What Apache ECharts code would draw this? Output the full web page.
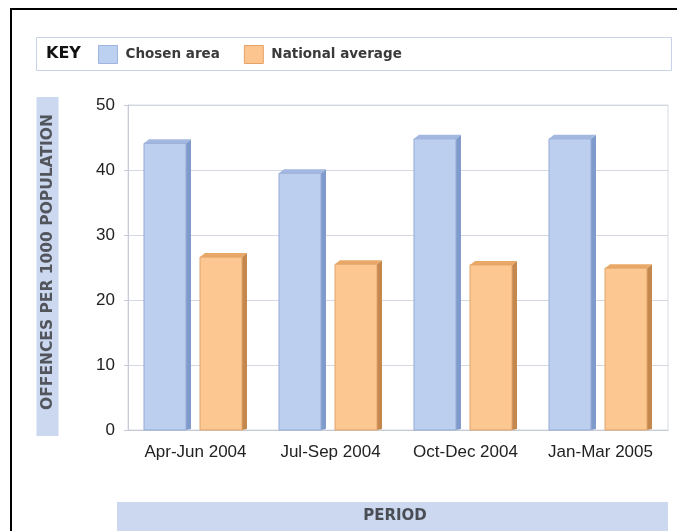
<!DOCTYPE html>
<html>
<head>
<meta charset="utf-8">
<script src="https://cdn.jsdelivr.net/npm/echarts@6/dist/echarts.min.js"></script>
<style>
html,body{margin:0;padding:0;background:#fff;}
#c{width:677px;height:531px;}
</style>
</head>
<body>
<div id="c"></div>
<script>
var categories = ['Apr-Jun 2004', 'Jul-Sep 2004', 'Oct-Dec 2004', 'Jan-Mar 2005'];
var chosenArea = [44.1, 39.5, 44.8, 44.8];
var nationalAverage = [26.6, 25.5, 25.4, 24.9];
var yTicks = { min: 0, max: 50, interval: 10 };

var chart = echarts.init(document.getElementById('c'));

function bar3d(offsetFrac, c) {
  return function (params, api) {
    var idx = api.value(0), val = api.value(1);
    var base = api.coord([idx, 0]);
    var top = api.coord([idx, val]);
    var bw = api.size([1, 0])[0];
    var w = bw * 0.311;
    var cx = base[0] + bw * offsetFrac;
    var x0 = cx - w / 2, x1 = cx + w / 2;
    var d = 5, h = 4;
    var yt = top[1], yb = base[1];
    return {
      type: 'group',
      children: [
        { type: 'polygon', shape: { points: [[x1, yt], [x1 + d, yt - h], [x1 + d, yb - 1], [x1, yb]] }, style: { fill: c.side } },
        { type: 'polygon', shape: { points: [[x0, yt], [x0 + d, yt - h], [x1 + d, yt - h], [x1, yt]] }, style: { fill: c.top } },
        { type: 'rect', shape: { x: x0, y: yt, width: w, height: yb - yt }, style: { fill: c.front, stroke: c.edge, lineWidth: 1 } }
      ]
    };
  };
}

var blue = { front: '#bdcfee', edge: '#97acd8', side: '#7f9bcb', top: '#a3b8e0' };
var orange = { front: '#fdc792', edge: '#e0a468', side: '#c4874e', top: '#eaa866' };

var option = {
  animation: false,
  backgroundColor: '#ffffff',
  grid: { left: 128, right: 9, top: 105, bottom: 101, show: true, borderColor: '#d6dae2', borderWidth: 1 },
  legend: {
    left: 98, top: 45, padding: 0,
    itemWidth: 19, itemHeight: 18, itemGap: 24,
    icon: 'rect',
    textStyle: { fontFamily: 'DejaVu Sans', fontWeight: 'bold', fontSize: 13.5, color: '#3a3a3a', padding: [0, 0, 0, 3] },
    data: [
      { name: 'Chosen area', itemStyle: { color: '#bcd0ef', borderColor: '#9fb4de', borderWidth: 1 } },
      { name: 'National average', itemStyle: { color: '#fcc590', borderColor: '#e6a366', borderWidth: 1 } }
    ]
  },
  xAxis: {
    type: 'category',
    data: categories,
    boundaryGap: true,
    axisLine: { lineStyle: { color: '#c5cad4' } },
    axisTick: { alignWithLabel: true, length: 5, lineStyle: { color: '#c5cad4' } },
    axisLabel: { interval: 0, fontFamily: 'Liberation Sans', fontSize: 17, color: '#222', margin: 14 }
  },
  yAxis: {
    type: 'value',
    min: yTicks.min, max: yTicks.max, interval: yTicks.interval,
    axisLine: { show: true, lineStyle: { color: '#c5cad4' } },
    axisTick: { show: true, length: 4, lineStyle: { color: '#c5cad4' } },
    axisLabel: { fontFamily: 'Liberation Sans', fontSize: 17, color: '#222', margin: 13 },
    splitLine: { lineStyle: { color: '#d3d8e2' } }
  },
  series: [
    {
      name: 'Chosen area', type: 'custom',
      itemStyle: { color: '#bcd0ef' },
      renderItem: bar3d(-0.226, blue),
      data: categories.map(function (c, i) { return [i, chosenArea[i]]; })
    },
    {
      name: 'National average', type: 'custom',
      itemStyle: { color: '#fcc590' },
      renderItem: bar3d(0.189, orange),
      data: categories.map(function (c, i) { return [i, nationalAverage[i]]; })
    }
  ],
  graphic: [
    { type: 'line', shape: { x1: 10, y1: 9, x2: 677, y2: 9 }, style: { stroke: '#000', lineWidth: 2 }, z: 10 },
    { type: 'line', shape: { x1: 11, y1: 8, x2: 11, y2: 531 }, style: { stroke: '#000', lineWidth: 2 }, z: 10 },
    { type: 'rect', shape: { x: 36.5, y: 37.5, width: 635, height: 33 }, style: { fill: '#fff', stroke: '#c8d2ea', lineWidth: 1 }, z: -10 },
    { type: 'text', x: 46, y: 54, style: { text: 'KEY', fontFamily: 'DejaVu Sans', fontWeight: 'bold', fontSize: 16, fill: '#111', verticalAlign: 'middle' } },
    { type: 'rect', shape: { x: 36.5, y: 97, width: 22, height: 339 }, style: { fill: '#cbd8f0' }, z: -10 },
    { type: 'text', x: 48, y: 262, rotation: Math.PI / 2, style: { text: 'OFFENCES PER 1000 POPULATION', fontFamily: 'DejaVu Sans', fontWeight: 'bold', fontSize: 15.5, fill: '#52565c', align: 'center', verticalAlign: 'middle' } },
    { type: 'rect', shape: { x: 117, y: 502, width: 551, height: 29 }, style: { fill: '#cbd8f0' }, z: -10 },
    { type: 'text', x: 395, y: 516, style: { text: 'PERIOD', fontFamily: 'DejaVu Sans', fontWeight: 'bold', fontSize: 15, fill: '#4a4e54', align: 'center', verticalAlign: 'middle' } }
  ]
};
chart.setOption(option);
</script>
</body>
</html>
